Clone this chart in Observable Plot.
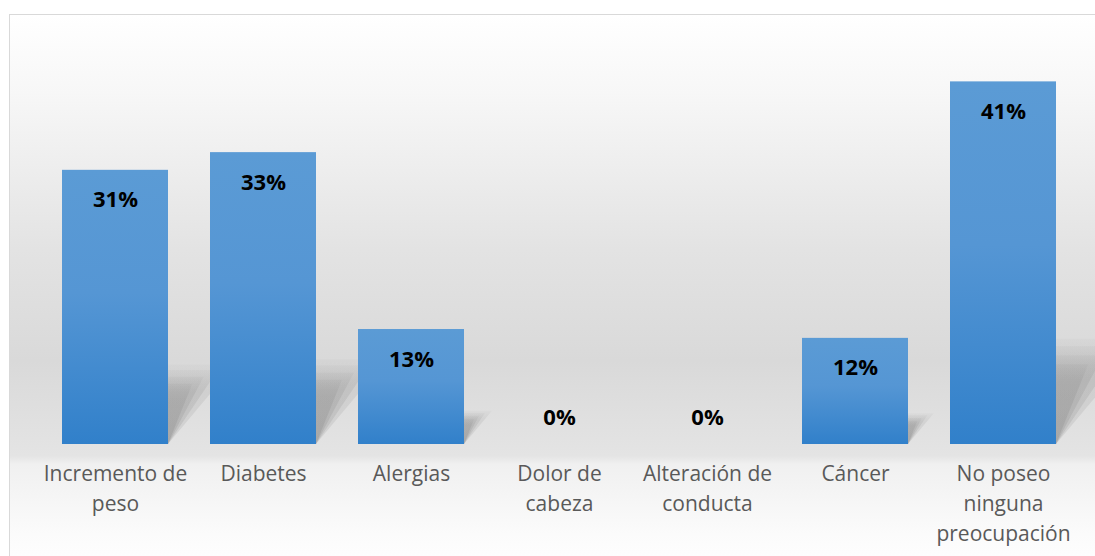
<!DOCTYPE html>
<html>
<head>
<meta charset="utf-8">
<script src="https://cdn.jsdelivr.net/npm/d3@7"></script>
<script src="https://cdn.jsdelivr.net/npm/@observablehq/plot@0.6"></script>
<style>
  html, body { margin: 0; padding: 0; background: #fff; }
  #wrap { position: relative; width: 1095px; height: 556px; overflow: hidden; }
  #frame {
    position: absolute; left: 9px; top: 14px; width: 1100px; height: 560px;
    border: 1px solid #d9d9d9; box-sizing: border-box;
    background: linear-gradient(to bottom, #ffffff 0%, #f7f7f7 14%, #e3e3e3 42%, #d9d9d9 62%, #e4e4e4 79%, #f0f0f0 80.5%, #fbfbfb 93%, #ffffff 100%);
  }
  #chart { position: absolute; left: 0; top: 0; }
  #chart svg { background: transparent !important; }
  .shadow rect { transform-box: fill-box; transform-origin: left bottom; }
  .sh1 rect { transform: skewX(-22deg); }
  .sh2 rect { transform: skewX(-28deg); }
  .sh3 rect { transform: skewX(-34deg); }
  .sh4 rect { transform: skewX(-40deg); }
</style>
</head>
<body>
<div id="wrap">
  <div id="frame"></div>
  <div id="chart"></div>
</div>
<script>
const categories = ["Incremento de peso", "Diabetes", "Alergias", "Dolor de cabeza", "Alteración de conducta", "Cáncer", "No poseo ninguna preocupación"];
const tickLabels = ["Incremento de\npeso", "Diabetes", "Alergias", "Dolor de\ncabeza", "Alteración de\nconducta", "Cáncer", "No poseo\nninguna\npreocupación"];
const values = [31, 33, 13, 0, 0, 12, 41];

const data = categories.map((c, i) => ({category: c, value: values[i], label: tickLabels[i]}));
const shadowLayers = [
  {cls: "shadow sh4", k: 0.29, op: 0.18},
  {cls: "shadow sh3", k: 0.27, op: 0.22},
  {cls: "shadow sh2", k: 0.245, op: 0.26},
  {cls: "shadow sh1", k: 0.22, op: 0.3}
];

const defs = () => {
  const d = d3.create("svg:defs");
  const g = d.append("linearGradient").attr("id", "barGrad").attr("x1", 0).attr("y1", 0).attr("x2", 0).attr("y2", 1);
  g.append("stop").attr("offset", "0%").attr("stop-color", "#5b9bd5");
  g.append("stop").attr("offset", "45%").attr("stop-color", "#5596d4");
  g.append("stop").attr("offset", "100%").attr("stop-color", "#3180ca");
  const s = d.append("linearGradient").attr("id", "shadowGrad").attr("x1", 0).attr("y1", 0).attr("x2", 0).attr("y2", 1);
  s.append("stop").attr("offset", "0%").attr("stop-color", "#8f8f8f").attr("stop-opacity", 0.3);
  s.append("stop").attr("offset", "25%").attr("stop-color", "#8f8f8f").attr("stop-opacity", 0.9);
  s.append("stop").attr("offset", "100%").attr("stop-color", "#8a8a8a").attr("stop-opacity", 1);
  return d.node();
};

const chart = Plot.plot({
  width: 1095,
  height: 556,
  marginTop: 46,
  marginBottom: 112,
  marginLeft: 39,
  marginRight: 16,
  style: {background: "transparent", fontFamily: "'Open Sans', sans-serif"},
  x: {domain: categories, paddingInner: 0.285, paddingOuter: 0.1425, axis: null},
  y: {domain: [0, 45], axis: null},
  marks: [
    defs,
    ...shadowLayers.map(l => Plot.barY(data.filter(d => d.value > 0), {x: "category", y: d => d.value * l.k, fill: "url(#shadowGrad)", fillOpacity: l.op, className: l.cls})),
    Plot.barY(data, {x: "category", y: "value", fill: "url(#barGrad)"}),
    Plot.text(data.filter(d => d.value > 0), {x: "category", y: "value", text: d => d.value + "%", dy: 30, fontSize: 22, fontWeight: "bold", fill: "#000"}),
    Plot.text(data.filter(d => d.value === 0), {x: "category", y: "value", text: d => d.value + "%", dy: -27, fontSize: 22, fontWeight: "bold", fill: "#000"}),
    Plot.text(data, {x: "category", y: 0, text: "label", lineAnchor: "top", dy: 15, lineHeight: 1.43, fontSize: 21, fill: "#595959"})
  ]
});
document.getElementById("chart").appendChild(chart);
</script>
</body>
</html>
